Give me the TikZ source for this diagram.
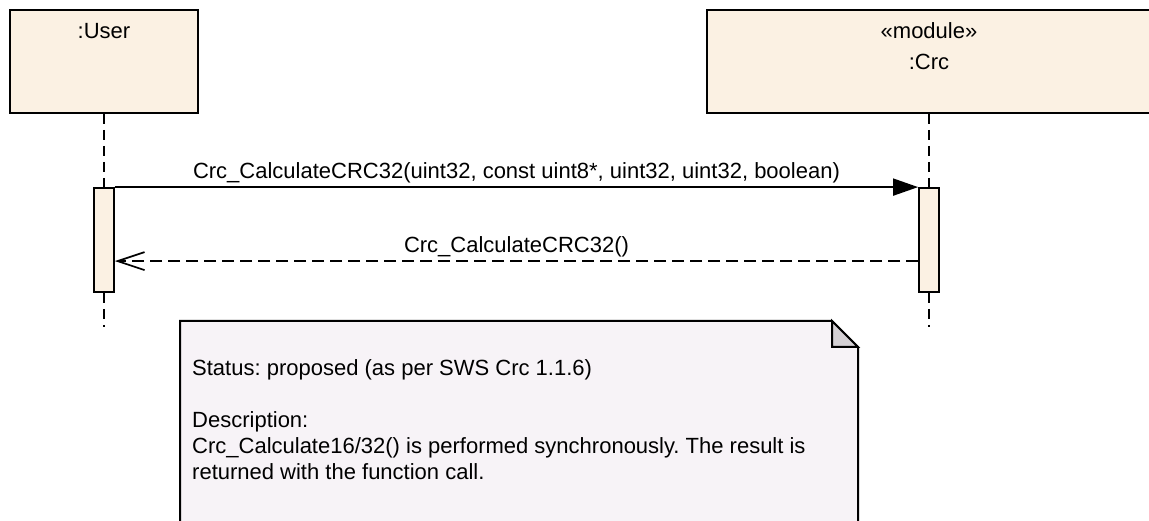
\documentclass[tikz,border=0pt]{standalone}
\usepackage{fontspec}
\setmainfont{Liberation Sans}
\usetikzlibrary{arrows.meta,positioning}
\definecolor{lifefill}{HTML}{FBF1E3}
\definecolor{notefill}{HTML}{F7F3F7}
\definecolor{foldfill}{HTML}{D4D0D4}
\frenchspacing

\begin{document}
\begin{tikzpicture}[
  x=1pt, y=-1pt,
  every node/.style={font=\fontsize{22}{26}\selectfont, inner sep=0pt},
  head box/.style={draw, line width=2pt, fill=lifefill, minimum height=103pt},
  activation/.style={draw, line width=1.8pt, fill=lifefill, minimum width=20pt, minimum height=104pt},
  lifeline/.style={line width=1.7pt, dash pattern=on 10pt off 6pt},
  call/.style={line width=1.8pt, -{Triangle[length=25pt, width=17pt]}},
  reply/.style={line width=1.7pt, dash pattern=on 12pt off 6pt, -{Straight Barb[length=27pt, width=18pt, line width=1.7pt]}},
  note line/.style={draw, line width=2pt}
  ]
  \useasboundingbox (0,0) rectangle (1149,521);

  % lifeline heads
  \node[head box, minimum width=188pt] (user) at (104,61.5) {};
  \node at ([yshift=-22pt]user.north) (userlabel) {:User};
  \node[head box, minimum width=444pt] (crc) at (929,61.5) {};
  \node at ([yshift=-22pt]crc.north) (stereo) {«module»};
  \node at ([yshift=-53pt]crc.north) (crclabel) {:Crc};

  % activations
  \node[activation] (uact) at (104,240) {};
  \node[activation] (cact) at (929,240) {};

  \draw[lifeline] (user.south) -- (uact.north);
  \draw[lifeline] (uact.south) -- ++(0,34) coordinate (uend);
  \draw[lifeline] (crc.south) -- (cact.north);
  \draw[lifeline] (cact.south) -- ++(0,34) coordinate (cend);

  % messages
  \draw[call] (uact.north east) -- (cact.north west)
      node[midway, above=3pt] (calllabel) {Crc\_CalculateCRC32(uint32, const uint8*, uint32, uint32, boolean)};
  \coordinate (rstart) at ([yshift=-74pt]cact.north west);
  \coordinate (rend) at ([yshift=-74pt]uact.north east);
  \draw[reply] (rstart) -- (rend)
      node[midway, above=3pt] (replylabel) {Crc\_CalculateCRC32()};

  % note
  \draw[note line, fill=notefill] (180,321) -- (832,321) -- (858,347) -- (858,530) -- (180,530) -- cycle;
  \draw[note line, fill=foldfill] (832,321) -- (832,347) -- (858,347) -- cycle;
  \node[anchor=north west, align=left] (notetext) at (192,359)
      {Status: proposed (as per SWS Crc 1.1.6)\\[26pt]
       Description:\\
       Crc\_Calculate16/32() is performed synchronously. The result is\\
       returned with the function call.};
\end{tikzpicture}
\end{document}
